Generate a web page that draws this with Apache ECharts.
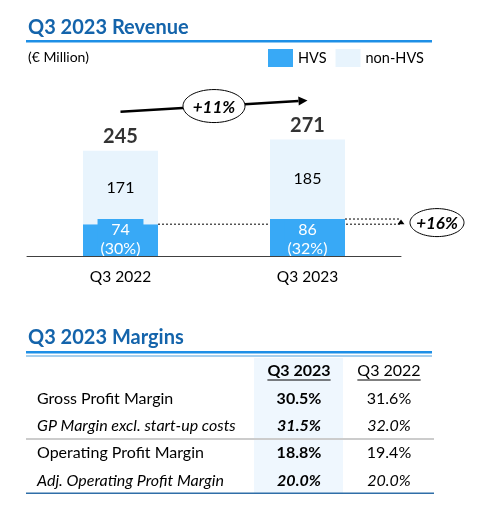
<!DOCTYPE html>
<html><head><meta charset="utf-8">
<script src="https://cdn.jsdelivr.net/npm/echarts@6/dist/echarts.min.js"></script>
<style>html,body{margin:0;padding:0;background:#fff}#c{width:492px;height:518px}</style>
</head><body><div id="c"></div>
<script>
// ---- data ----
const categories = ['Q3 2022', 'Q3 2023'];
const hvs = [74, 86];
const nonHvs = [171, 185];
const totals = [245, 271];
const hvsShare = ['30%', '32%'];
const totalGrowth = '+11%';
const hvsGrowth = '+16%';
const tableHeaders = ['Q3 2023', 'Q3 2022'];
const metricNames = ['Gross Profit Margin', 'GP Margin excl. start-up costs', 'Operating Profit Margin', 'Adj. Operating Profit Margin'];
const metricItalic = [false, true, false, true];
const margins2023 = ['30.5%', '31.5%', '18.8%', '20.0%'];
const margins2022 = ['31.6%', '32.0%', '19.4%', '20.0%'];

// ---- style ----
const FONT = 'Lato, "Open Sans", sans-serif';
const BLUE = '#38a9f6', LIGHT = '#e8f4fd', TITLE = '#1464ab', RULE = '#1e8fe6';

const chart = echarts.init(document.getElementById('c'), null, {renderer: 'canvas'});
const option = {
  animation: false,
  backgroundColor: '#fff',
  textStyle: {fontFamily: FONT},
  legend: {
    left: 268, top: 49, padding: 0, itemWidth: 25, itemHeight: 18, itemGap: 9, icon: 'rect',
    selectedMode: false, data: ['HVS', 'non-HVS'],
    textStyle: {fontSize: 14.5, color: '#000', fontFamily: FONT}
  },
  grid: {left: 27, right: 91, top: 84, bottom: 262},
  xAxis: {
    type: 'category', data: categories, z: 5,
    axisLine: {lineStyle: {color: '#404040', width: 1}},
    axisTick: {show: false},
    axisLabel: {fontSize: 15.5, color: '#000', margin: 13, fontFamily: FONT}
  },
  yAxis: {type: 'value', min: 0, max: 400, show: false},
  series: [
    {
      name: 'HVS', type: 'bar', stack: 't', barWidth: 75, data: hvs,
      itemStyle: {color: BLUE},
      label: {
        show: true, position: ['50%', '100%'], align: 'center', verticalAlign: 'bottom',
        backgroundColor: BLUE, padding: [0, 3, 0, 3], offset: [0, 0],
        formatter: p => '{a|' + hvs[p.dataIndex] + '}\n{b|(' + hvsShare[p.dataIndex] + ')}',
        rich: {
          a: {color: '#fff', fontSize: 16, lineHeight: 22, fontFamily: FONT, align: 'center'},
          b: {color: '#fff', fontSize: 16, lineHeight: 15, fontFamily: FONT, align: 'center'}
        }
      }
    },
    {
      name: 'non-HVS', type: 'bar', stack: 't', data: nonHvs,
      itemStyle: {color: LIGHT},
      label: {show: true, position: 'inside', color: '#000', fontSize: 16, fontFamily: FONT}
    },
    {
      type: 'scatter', data: totals, symbolSize: 0, silent: true, z: 5,
      label: {show: true, position: 'top', distance: 4, fontSize: 20, fontWeight: 'bold', color: '#000', fontFamily: FONT}
    }
  ]
};
chart.setOption(option);

// ---- annotations built from the axes ----
const px = (i, v) => chart.convertToPixel({gridIndex: 0}, [i, v]);
const half = 37.5;
function ellipsePts(cx, cy, rx, ry) {
  const pts = [];
  for (let k = 0; k < 72; k++) {
    const a = k / 72 * Math.PI * 2;
    pts.push([cx + rx * Math.cos(a), cy + ry * Math.sin(a)]);
  }
  return pts;
}
const g = [];
// growth arrow for totals
const t1 = px(0, totals[0]), t2 = px(1, totals[1]);
const s = [t1[0], t1[1] - 39], e = [t2[0], t2[1] - 39];
const ang = Math.atan2(e[1] - s[1], e[0] - s[0]);
const back = [e[0] - 9 * Math.cos(ang), e[1] - 9 * Math.sin(ang)];
g.push({type: 'line', shape: {x1: s[0], y1: s[1], x2: back[0], y2: back[1]}, style: {stroke: '#000', lineWidth: 2.5}, z: 10});
g.push({type: 'polygon', shape: {points: [
  e,
  [back[0] + 4.5 * Math.sin(ang), back[1] - 4.5 * Math.cos(ang)],
  [back[0] - 4.5 * Math.sin(ang), back[1] + 4.5 * Math.cos(ang)]
]}, style: {fill: '#000'}, z: 10});
const mc = [(s[0] + e[0]) / 2, (s[1] + e[1]) / 2];
g.push({type: 'polygon', shape: {points: ellipsePts(mc[0], mc[1], 31, 16.5)}, style: {fill: '#fff', stroke: '#000', lineWidth: 1}, z: 11});
g.push({type: 'text', style: {text: totalGrowth, x: mc[0], y: mc[1] + 1, textAlign: 'center', textVerticalAlign: 'middle', font: 'italic bold 17px ' + FONT, fill: '#000'}, z: 12});

// HVS growth dotted guides (between bar and label)
const h1 = px(0, hvs[0]), h2 = px(1, hvs[1]);
const xEnd = h2[0] + (h2[0] - h1[0]) / 2;
g.push({type: 'line', shape: {x1: h1[0] + half, y1: h1[1], x2: xEnd, y2: h1[1]}, style: {stroke: '#000', lineWidth: 1, lineDash: [2, 2]}, z: 2, z2: 0.5});
g.push({type: 'line', shape: {x1: h2[0] + half, y1: h2[1], x2: xEnd, y2: h2[1]}, style: {stroke: '#000', lineWidth: 1, lineDash: [2, 2]}, z: 2, z2: 0.5});
g.push({type: 'polygon', shape: {points: [[xEnd, h2[1] + 0.5], [xEnd - 3.5, h1[1]], [xEnd + 3.5, h1[1]]]}, style: {fill: '#000'}, z: 10});
const ec = [xEnd + 36, (h1[1] + h2[1]) / 2 + 1];
g.push({type: 'polygon', shape: {points: ellipsePts(ec[0], ec[1], 27, 14)}, style: {fill: '#fff', stroke: '#000', lineWidth: 1}, z: 11});
g.push({type: 'text', style: {text: hvsGrowth, x: ec[0], y: ec[1] + 1, textAlign: 'center', textVerticalAlign: 'middle', font: 'italic bold 17px ' + FONT, fill: '#000'}, z: 12});

// headers
g.push({type: 'text', style: {text: 'Q3 2023 Revenue', x: 28, y: 28, textVerticalAlign: 'middle', font: 'bold 20px ' + FONT, fill: TITLE}});
g.push({type: 'rect', shape: {x: 26, y: 40, width: 406, height: 2.5}, style: {fill: RULE}});
g.push({type: 'text', style: {text: '(€ Million)', x: 28, y: 57, textVerticalAlign: 'middle', font: '14px ' + FONT, fill: '#000'}});

// margins table
g.push({type: 'text', style: {text: 'Q3 2023 Margins', x: 28, y: 338, textVerticalAlign: 'middle', font: 'bold 20px ' + FONT, fill: TITLE}});
g.push({type: 'rect', shape: {x: 26, y: 351, width: 406, height: 2.5}, style: {fill: RULE}});
g.push({type: 'rect', shape: {x: 26, y: 355.5, width: 406, height: 1}, style: {fill: '#4f9fdc'}});
g.push({type: 'rect', shape: {x: 254, y: 358, width: 89, height: 135}, style: {fill: '#eff7fe'}});
const cx1 = 299, cx2 = 389;
const ctx = document.createElement('canvas').getContext('2d');
function headerCell(txt, x, bold) {
  const font = (bold ? 'bold ' : '') + '16px ' + FONT;
  ctx.font = font;
  const w = ctx.measureText(txt).width;
  g.push({type: 'text', style: {text: txt, x: x, y: 371, textAlign: 'center', textVerticalAlign: 'middle', font: font, fill: '#000'}});
  g.push({type: 'rect', shape: {x: x - w / 2, y: 379.5, width: w, height: 1}, style: {fill: '#000'}});
}
headerCell(tableHeaders[0], cx1, true);
headerCell(tableHeaders[1], cx2, false);
const rowY = [399, 426, 453, 481];
metricNames.forEach((name, i) => {
  const it = metricItalic[i] ? 'italic ' : '';
  g.push({type: 'text', style: {text: name, x: 37, y: rowY[i], textVerticalAlign: 'middle', font: it + '16px ' + FONT, fill: '#000'}});
  g.push({type: 'text', style: {text: margins2023[i], x: cx1, y: rowY[i], textAlign: 'center', textVerticalAlign: 'middle', font: it + 'bold 16px ' + FONT, fill: '#000'}});
  g.push({type: 'text', style: {text: margins2022[i], x: cx2, y: rowY[i], textAlign: 'center', textVerticalAlign: 'middle', font: it + '16px ' + FONT, fill: '#000'}});
});
g.push({type: 'rect', shape: {x: 26, y: 438, width: 408, height: 2}, style: {fill: '#cccccc'}});
g.push({type: 'rect', shape: {x: 26, y: 492.5, width: 408, height: 1.5}, style: {fill: '#2f6ea8'}});

chart.setOption({graphic: {elements: g}});
</script>
</body></html>
